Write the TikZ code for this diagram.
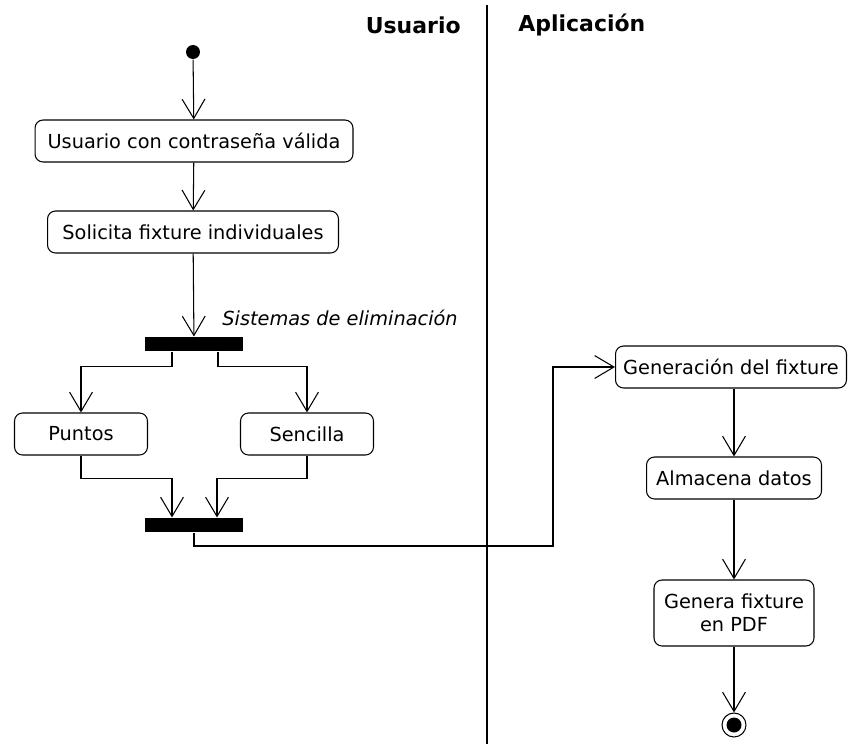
\documentclass[tikz,border=0pt]{standalone}
\usepackage{fontspec}
\setmainfont{DejaVu Sans}
\usetikzlibrary{arrows.meta}

\begin{document}
\begin{tikzpicture}[x=0.02cm,y=-0.02cm,line width=0.6pt,
		accion/.style={draw,rounded corners=0.16cm,minimum height=0.84cm,inner xsep=0.15cm,font=\fontsize{11}{13}\selectfont},
		barra/.style={fill,minimum width=1.96cm,minimum height=0.28cm,inner sep=0},
		flujo/.style={-{Straight Barb[length=11pt,width=13pt]}}]
	\useasboundingbox (0,0) rectangle (848,744);
	% carriles
	\draw (487,5) -- (487,744);
	\node[font=\bfseries\fontsize{12.5}{15}\selectfont,anchor=east] (usuario) at (467,25) {Usuario};
	\node[font=\bfseries\fontsize{12.5}{15}\selectfont,anchor=west] (aplicacion) at (512,25) {Aplicación};
	% nodos
	\node[fill,circle,minimum size=0.28cm,inner sep=0] (inicio) at (193,52) {};
	\node[accion,minimum width=6.36cm] (valida) at (194,141) {Usuario con contraseña válida};
	\node[accion,minimum width=5.82cm] (solicita) at (193,232) {Solicita fixture individuales};
	\node[barra] (fork) at (194,344) {};
	\node[font=\itshape\fontsize{11}{13}\selectfont,anchor=west] (sistemas) at (216,318) {Sistemas de eliminación};
	\node[accion,minimum width=2.66cm] (puntos) at (81,434) {Puntos};
	\node[accion,minimum width=2.66cm] (sencilla) at (307,434) {Sencilla};
	\node[barra] (join) at (194,525) {};
	\node[accion,minimum width=4.62cm] (generacion) at (731,367) {Generación del fixture};
	\node[accion,minimum width=3.5cm] (almacena) at (734,478) {Almacena datos};
	\node[accion,align=center,minimum width=3.2cm,minimum height=1.32cm] (genera) at (734,613) {Genera fixture\\en PDF};
	\node[draw,circle,minimum size=0.48cm,inner sep=0] (fin) at (734,725) {};
	\node[fill,circle,minimum size=0.3cm,inner sep=0] (finpunto) at (fin) {};
	\coordinate (codo) at (553,546);
	% flujos
	\draw[flujo] (inicio) -- (valida);
	\draw[flujo] (valida) -- (solicita);
	\draw[flujo] (solicita) -- (fork);
	\draw[flujo] ([xshift=-0.44cm]fork.south) -- ++(0,15) -| (puntos.north);
	\draw[flujo] ([xshift=0.48cm]fork.south) -- ++(0,15) -| (sencilla.north);
	\draw[flujo] (puntos.south) -- ++(0,23) -| ([xshift=-0.44cm]join.north);
	\draw[flujo] (sencilla.south) -- ++(0,23) -| ([xshift=0.46cm]join.north);
	\draw[flujo] (join.south) |- (codo) |- (generacion.west);
	\draw[flujo] (almacena.north |- generacion.south) -- (almacena);
	\draw[flujo] (almacena) -- (genera);
	\draw[flujo] (genera) -- (fin);
\end{tikzpicture}
\end{document}
